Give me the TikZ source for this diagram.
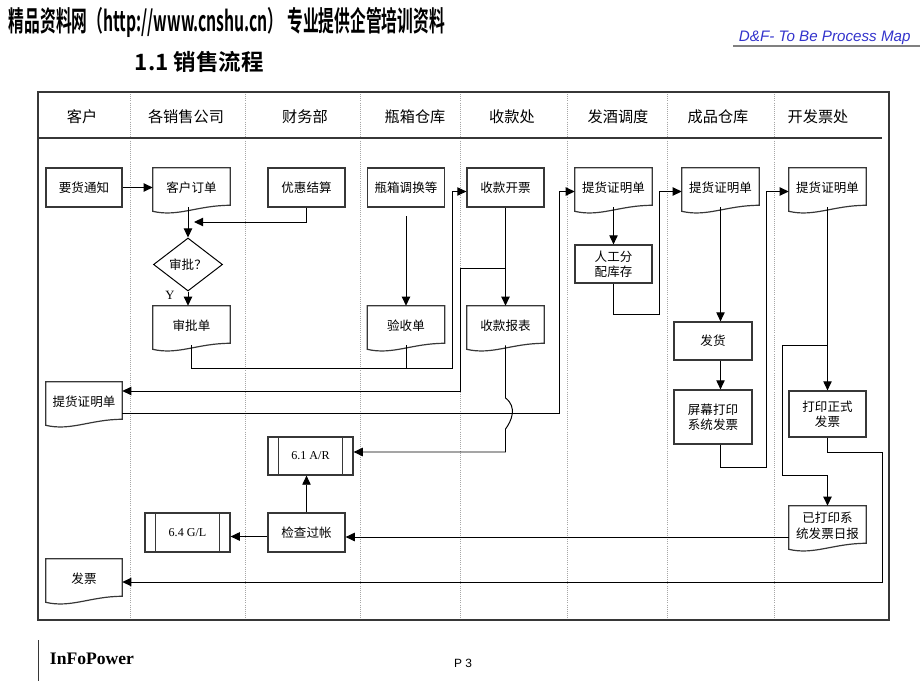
\documentclass[tikz,border=0pt]{standalone}
\usepackage{fontspec}
\setmainfont{Liberation Serif}
\newfontfamily\cjk{Noto Sans CJK SC}
\newfontfamily\cjkbold{Noto Sans CJK SC Bold}
\newfontfamily\arialfont{Liberation Sans}
\usetikzlibrary{shapes.geometric,arrows.meta,calc}
\definecolor{mapblue}{RGB}{51,51,204}
\definecolor{edgegray}{RGB}{55,55,55}

\tikzset{
  edge/.style={draw=edgegray, line width=0.85pt},
  boxfont/.style={font=\fontsize{8.9}{10.7}\selectfont\cjk, align=center, inner sep=1pt},
  procbox/.style={boxfont, edge, rectangle, minimum width=1.925cm, minimum height=0.975cm},
  docbox/.style={boxfont, minimum width=1.925cm, minimum height=0.975cm,
    append after command={\pgfextra{
      \draw[edge] ($(\tikzlastnode.south east)+(0,-2)$) -- (\tikzlastnode.north east)
        -- (\tikzlastnode.north west) -- ($(\tikzlastnode.south west)+(0,4)$)
        .. controls ($(\tikzlastnode.south west)+(25,10)$) and ($(\tikzlastnode.south west)+(45,-2)$)
        .. ($(\tikzlastnode.south east)+(0,-2)$) -- cycle;}}},
  subproc/.style={procbox, font=\fontsize{8.6}{10}\selectfont, minimum width=2.125cm,
    append after command={\pgfextra{
      \draw[edge] ($(\tikzlastnode.north west)+(11,0)$) -- ($(\tikzlastnode.south west)+(11,0)$);
      \draw[edge] ($(\tikzlastnode.north east)+(-11,0)$) -- ($(\tikzlastnode.south east)+(-11,0)$);}}},
  decision/.style={boxfont, draw=black, line width=0.7pt, diamond, minimum width=1.725cm, minimum height=1.325cm, inner sep=0pt},
  lanehead/.style={font=\fontsize{10.8}{12}\selectfont\cjk},
  flow/.style={draw=black, line width=0.7pt, -{Triangle[length=6.5pt,width=6pt]}},
  wire/.style={draw=black, line width=0.7pt},
  lane/.style={draw=gray!70, line width=0.5pt, densely dotted},
  frame/.style={draw=edgegray, line width=1.3pt}
}

\begin{document}
\begin{tikzpicture}[x=0.025cm,y=-0.025cm]
\useasboundingbox (0,0) rectangle (920,690);

% page heading
\node[anchor=west] (site) at (4,22) {\scalebox{0.56}[1]{\fontsize{20}{22}\selectfont\cjkbold 精品资料网（http://www.cnshu.cn） 专业提供企管培训资料}};
\node[anchor=west] (title) at (130,62) {\fontsize{16}{18}\selectfont\cjkbold 1.1 销售流程};
\node[anchor=west, text=mapblue] (mapname) at (734,38) {\fontsize{10.8}{12}\selectfont\arialfont\itshape D\&F- To Be Process Map};
\draw[gray, line width=1.4pt] (733,46) -- (920,46);

% swimlane frame
\foreach \x in {130,245,360,460,567,667,774}
  \draw[lane] (\x,92) -- (\x,620);
\draw[frame] (38,92) rectangle (889,620);
\draw[frame] (38,138) -- (882,138);

\node[lanehead] (h1) at (82,117) {客户};
\node[lanehead] (h2) at (186,117) {各销售公司};
\node[lanehead] (h3) at (305,117) {财务部};
\node[lanehead] (h4) at (415,117) {瓶箱仓库};
\node[lanehead] (h5) at (512,117) {收款处};
\node[lanehead] (h6) at (618,117) {发酒调度};
\node[lanehead] (h7) at (718,117) {成品仓库};
\node[lanehead] (h8) at (818,117) {开发票处};

% first row
\node[procbox, minimum width=1.9cm] (notice) at (84,187.5) {要货通知};
\node[docbox] (order) at (191.5,187.5) {客户订单};
\node[procbox] (discount) at (306.5,187.5) {优惠结算};
\node[procbox] (swap) at (406,187.5) {瓶箱调换等};
\node[procbox] (invoice) at (505.5,187.5) {收款开票};
\node[docbox] (lad1) at (613.5,187.5) {提货证明单};
\node[docbox] (lad2) at (720.5,187.5) {提货证明单};
\node[docbox] (lad3) at (827.5,187.5) {提货证明单};

% middle rows
\node[decision] (approve) at (188,264.5) {审批？};
\node[docbox] (slip) at (191.5,325.5) {审批单};
\node[docbox] (receipt) at (406,325.5) {验收单};
\node[docbox] (report) at (505.5,325.5) {收款报表};
\node[procbox, minimum height=0.95cm] (alloc) at (613.5,264) {人工分\\配库存};
\node[procbox, minimum width=1.95cm, minimum height=0.95cm] (ship) at (713,341) {发货};
\node[procbox, minimum width=1.95cm, minimum height=1.35cm] (screen) at (713,417) {屏幕打印\\系统发票};
\node[procbox, minimum height=1.15cm] (print) at (827.5,414) {打印正式\\发票};
\node[docbox, font=\fontsize{8.9}{11.5}\selectfont\cjk] (daily) at (827.5,525.5) {已打印系\\统发票日报};
\node[docbox, minimum width=1.9cm] (custlad) at (84,401.5) {提货证明单};
\node[docbox, minimum width=1.9cm] (bill) at (84,578.5) {发票};
\node[subproc, minimum height=0.95cm] (ar) at (310.5,456) {6.1 A/R};
\node[subproc] (gl) at (187.5,532.5) {6.4 G/L};
\node[procbox] (check) at (306.5,532.5) {检查过帐};
\node[font=\fontsize{9}{10}\selectfont] (ylab) at (170,295) {Y};

% junction points
\coordinate (join1) at (194,222);
\coordinate (bus1) at (452,368);
\coordinate (split1) at (505.5,268);
\coordinate (bus2) at (460,391);
\coordinate (bus3) at (559,413);
\coordinate (hop) at (505.5,413);
\coordinate (bus4) at (659,314);
\coordinate (bus5) at (766,467);
\coordinate (split2) at (827.5,345);
\coordinate (bus6) at (782,475);
\coordinate (bus7) at (882,452);
\coordinate (bus8) at (882,582);

% connectors
\draw[flow] (notice) -- (order);
\draw[flow] (approve.north |- order.south) -- (approve.north);
\draw[flow] (discount.south) |- (join1);
\draw[flow] (approve.south) -- (approve.south |- slip.north);
\draw[flow] (slip.south) |- (bus1) |- ($(invoice.west)+(0,4)$);
\draw[wire] (receipt.south) -- (receipt.south |- bus1);
\draw[flow, shorten <=6pt] (swap.south) -- (receipt.north);
\draw[flow] (invoice.south) -- (report.north);
\draw[flow] (split1) -| (bus2) -- (bus2 -| custlad.east);
\draw[flow] (bus3 -| custlad.east) -- (bus3) |- ($(lad1.west)+(0,4)$);
\draw[flow] (report.south) -- ($(hop)+(0,-15)$)
  .. controls ($(hop)+(12,-6)$) and ($(hop)+(6,8)$) .. ($(hop)+(0,16)$)
  |- ($(ar.east)+(0,-4)$);
\draw[flow] (lad1.south) -- (alloc.north);
\draw[flow] (alloc.south) |- (bus4) |- ($(lad2.west)+(0,4)$);
\draw[flow] (lad2.south) -- (lad2.south |- ship.north);
\draw[flow] (lad2.south |- ship.south) -- (lad2.south |- screen.north);
\draw[flow] (lad2.south |- screen.south) |- (bus5) |- ($(lad3.west)+(0,4)$);
\draw[flow] (lad3.south) -- (print.north);
\draw[flow] (split2) -| (bus6) -| (daily.north);
\draw[flow] (print.south) |- (bus7) -- (bus8) -- (bus8 -| bill.east);
\draw[flow] ($(daily.west)+(0,11.5)$) -- ($(daily.west -| check.east)+(0,11.5)$);
\draw[flow] (check.north) -- (check.north |- ar.south);
\draw[flow] ($(check.west)+(0,4)$) -- ($(check.west -| gl.east)+(0,4)$);

% footer
\draw[edgegray, line width=0.6pt] (38,640) -- (38,681);
\node[anchor=west, font=\fontsize{12.5}{14}\selectfont\bfseries] (brand) at (45,659) {InFoPower};
\node[font=\fontsize{8.5}{10}\selectfont\arialfont] (page) at (463,663) {P 3};
\end{tikzpicture}
\end{document}
